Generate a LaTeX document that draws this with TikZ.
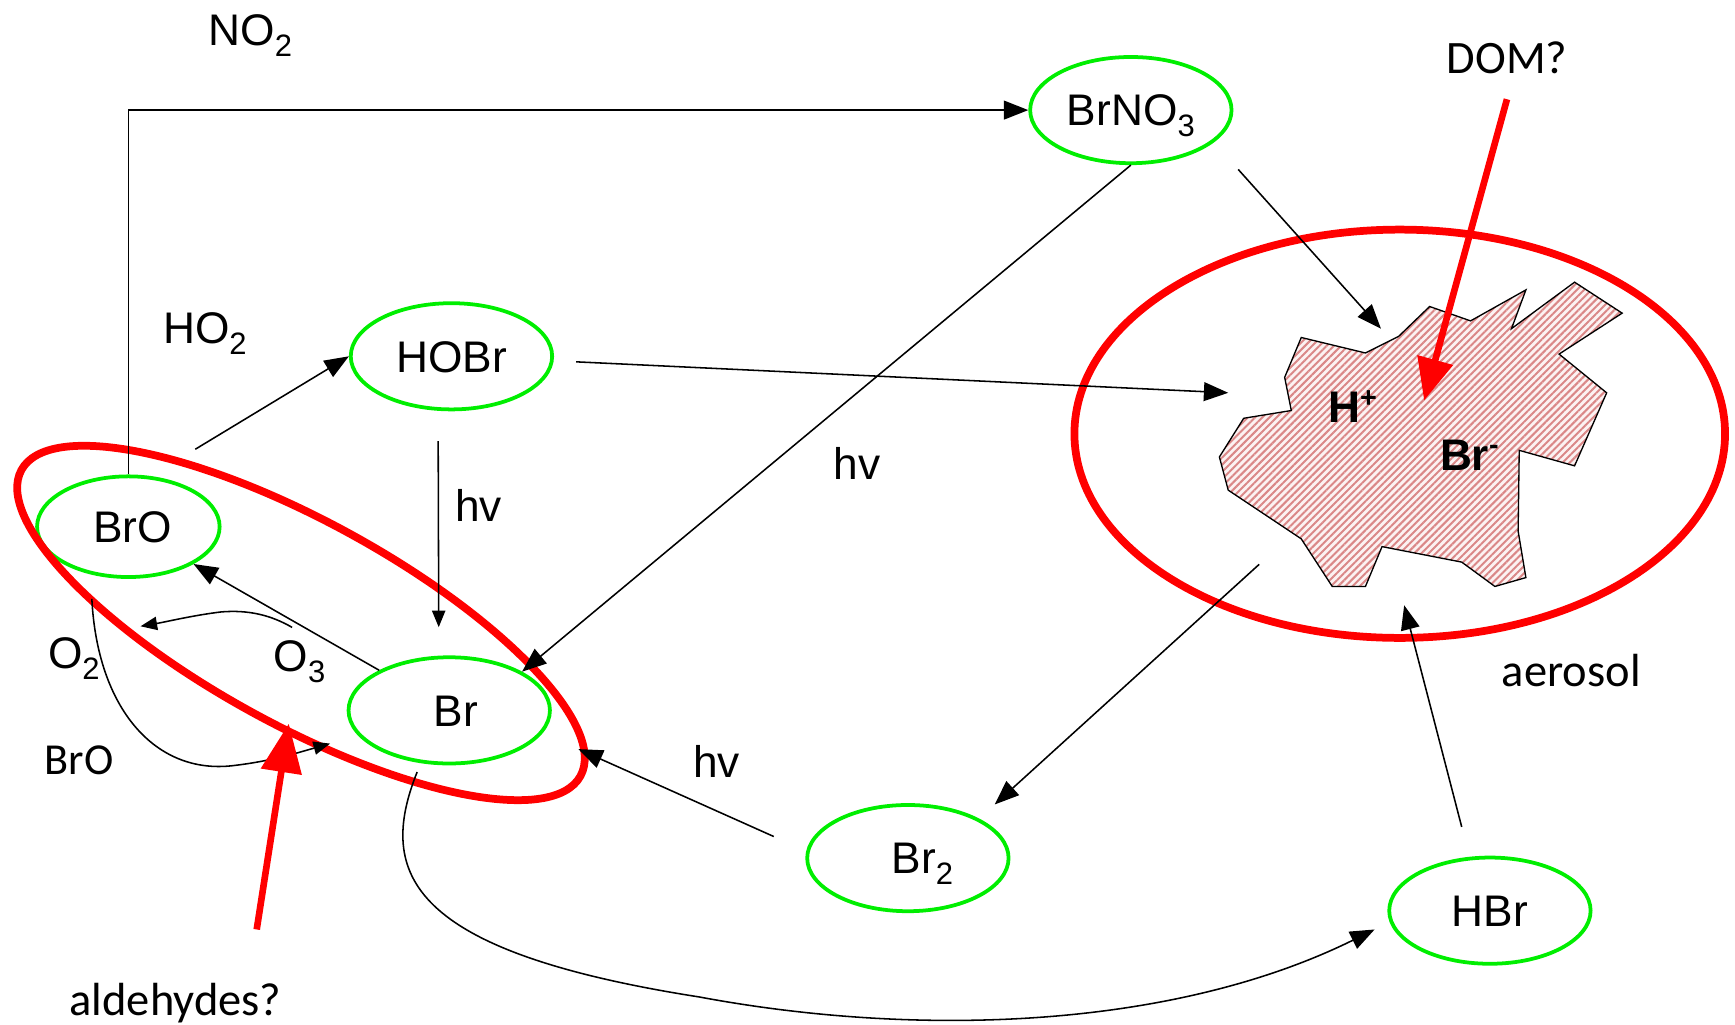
\documentclass[tikz,border=0pt]{standalone}
\usepackage{fontspec}
\setmainfont{Liberation Sans}
\newfontfamily\calib{Carlito}
\usetikzlibrary{arrows.meta,shapes.geometric,patterns.meta}
\definecolor{grn}{RGB}{0,238,0}
\definecolor{rd}{RGB}{255,0,0}
\definecolor{hatchc}{RGB}{218,135,135}
\definecolor{hatchbg}{RGB}{252,242,242}
\newcommand\sbs[1]{\raisebox{-5pt}{\fontsize{14pt}{14pt}\selectfont #1}}
\newcommand\sps[1]{\raisebox{7pt}{\fontsize{13pt}{13pt}\selectfont #1}}
\begin{document}
\begin{tikzpicture}[x=0.5pt,y=-0.5pt,
  lab/.style={inner sep=0pt, font=\fontsize{20pt}{24pt}\selectfont},
  clab/.style={inner sep=0pt, font=\calib\fontsize{21pt}{25pt}\selectfont},
  species/.style={ellipse, draw=grn, line width=1.7pt, inner sep=0pt,
    minimum width=91pt, minimum height=48pt, text height=14.3pt, text depth=0pt,
    font=\fontsize{20pt}{24pt}\selectfont},
  arr/.style={line width=0.7pt, -{Triangle[length=11pt,width=8.5pt]}},
  arrs/.style={line width=0.7pt, -{Triangle[length=7.5pt,width=6pt]}},
  redarr/.style={draw=rd, line width=3pt, -{Triangle[length=19pt,width=16pt]}},
  redring/.style={ellipse, draw=rd, line width=3.5pt, inner sep=0pt},
]
\path[use as bounding box] (0,0) rectangle (1568,926);

% aerosol particle
\draw[line width=0.6pt, preaction={fill=hatchbg},
  pattern={Lines[angle=45,distance=2.3pt,line width=0.9pt]}, pattern color=hatchc]
  (1292,277) -- (1329,290) -- (1379,262) -- (1366,297) -- (1423,255) -- (1466,283)
  -- (1409,320) -- (1452,355) -- (1423,421) -- (1373,407) -- (1372,480) -- (1379,522)
  -- (1351,530) -- (1321,508) -- (1249,494) -- (1234,530) -- (1204,530) -- (1176,487)
  -- (1110,443) -- (1102,413) -- (1124,378) -- (1167,371) -- (1161,341) -- (1176,305)
  -- (1234,319) -- (1264,304) -- cycle;
\node[font=\bfseries\fontsize{20pt}{24pt}\selectfont, inner sep=0pt, anchor=base west] (hplus) at (1200,382) {H\sps{+}};
\node[font=\bfseries\fontsize{20pt}{24pt}\selectfont, inner sep=0pt, anchor=base west] (brminus) at (1301,425) {Br\sps{-}};

% species
\node[species] (BrNO3) at (1022,99.5) {BrNO\sbs{3}};
\node[species] (HOBr) at (408,322) {HOBr};
\node[species, minimum width=82.5pt, minimum height=45.5pt] (BrO) at (116,476) {\hspace*{4pt}BrO};
\node[species] (Br) at (406,642) {\hspace*{6pt}Br};
\node[species] (Br2) at (820.5,775.5) {\hspace*{13pt}Br\sbs{2}};
\node[species] (HBr) at (1346.5,823) {HBr};

% red rings
\node[redring, minimum width=288pt, minimum height=92pt, rotate=-28.7] (grp) at (272,563) {};
\node[redring, minimum width=294pt, minimum height=184.5pt] (aer) at (1265,392) {};

% labels
\node[lab, anchor=base west] (lNO2) at (188,41) {NO\sbs{2}};
\node[lab, anchor=base west] (lHO2) at (147,310) {HO\sbs{2}};
\node[lab, anchor=base west] (hv1) at (411,471) {hv};
\node[lab, anchor=base west] (hv2) at (753,433) {hv};
\node[lab, anchor=base west] (hv3) at (626,703) {hv};
\node[lab, anchor=base west] (lO2) at (43,604) {O\sbs{2}};
\node[lab, anchor=base west] (lO3) at (247,607) {O\sbs{3}};
\node[clab, font=\calib\fontsize{20pt}{24pt}\selectfont, anchor=base west] (lBrO) at (40,700) {BrO};
\node[clab, anchor=base west] (aerosol) at (1357,620) {aerosol};
\node[clab, anchor=base west] (ald) at (62.5,918) {aldehydes?};
\node[clab, anchor=base west] (dom) at (1307,66) {DOM?};

% free connector ends
\coordinate (boOut) at (176.5,406);
\coordinate (aerA) at (1110,355);
\coordinate (aerB) at (1248,297);
\coordinate (aerC) at (1138,510);
\coordinate (aerD) at (1269,547);
\coordinate (domTip) at (1287,362);
\coordinate (o3S) at (264,567);
\coordinate (o3E) at (127,566);
\coordinate (aldS) at (232,840);
\coordinate (aldTip) at (261,654);
\coordinate (br2Tip) at (899,727);

% black connectors
\draw[arr] (BrO.north) |- (BrNO3.west);
\draw[arr] (boOut) -- (HOBr.west);
\draw[arr] ([xshift=10pt,yshift=-2.5pt]HOBr.east) -- (aerA);
\draw[arrs] ([xshift=-6pt,yshift=-13.5pt]HOBr.south) -- ([xshift=-4.75pt,yshift=12.75pt]Br.north);
\draw[arr] (BrNO3.south) -- (Br.28);
\draw[arr] ([xshift=15.75pt,yshift=-9.25pt]BrNO3.south east) -- (aerB);
\draw[arr] (aerC) -- (br2Tip);
\draw[arr] ([xshift=-12.75pt,yshift=13pt]HBr.north) -- (aerD);
\draw[arr] ([xshift=-14.25pt,yshift=9.75pt]Br2.west) -- ([xshift=12pt,yshift=-17.5pt]Br.east);
\draw[arr] (Br) -- (BrO);
\draw[arrs] (o3S) .. controls (245,556) and (225,551) .. (200,553)
  .. controls (175,556) and (150,562) .. (o3E);
\draw[arrs] ([xshift=-16.5pt,yshift=-9pt]BrO.south) .. controls (88,640) and (140,700) .. (210,692)
  .. controls (245,688) and (270,680) .. ([xshift=-7.5pt,yshift=-15pt]Br.west);
\draw[arr] ([xshift=-14.5pt,yshift=-3pt]Br.south) .. controls (340,790) and (370,860) .. (632,901)
  .. controls (830,938) and (1060,930) .. ([xshift=-5.75pt,yshift=-8.5pt]HBr.west);

% red arrows
\draw[redarr] ([yshift=-11.5pt]dom.south) -- (domTip);
\draw[redarr, -{Triangle[length=22pt,width=18pt]}] (aldS) -- (aldTip);
\end{tikzpicture}
\end{document}
